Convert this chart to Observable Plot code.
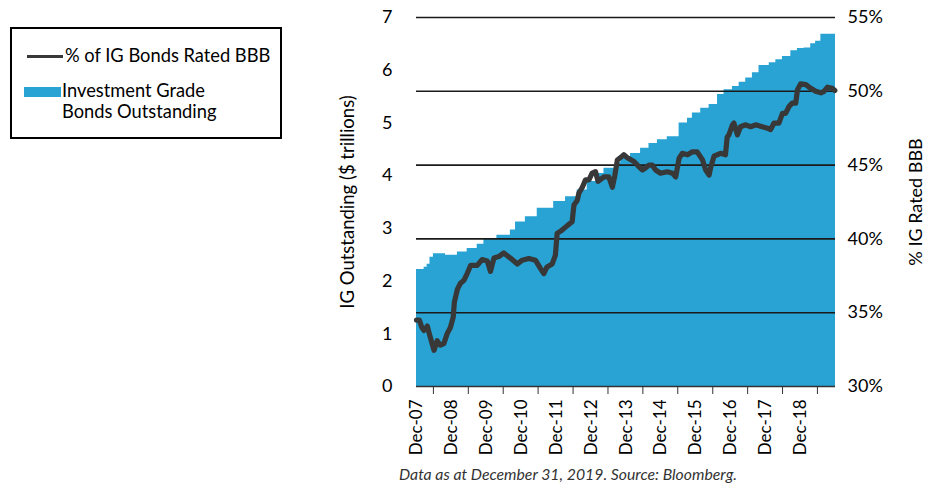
<!DOCTYPE html>
<html><head><meta charset="utf-8">
<script src="https://cdn.jsdelivr.net/npm/d3@7"></script>
<script src="https://cdn.jsdelivr.net/npm/@observablehq/plot@0.6"></script>
<style>
body{margin:0;background:#fff;font-family:Lato,sans-serif;}
#wrap{position:relative;width:927px;height:485px;overflow:hidden;}
#chart{position:absolute;left:0;top:0;}
#legend{position:absolute;left:10px;top:27px;width:268px;height:108px;border:2px solid #000;color:#000;font-size:18.3px;}
.lg{position:absolute;}
#caption{position:absolute;left:268px;width:600px;top:465px;text-align:center;font-style:italic;font-size:15.8px;color:#333;line-height:18px;}
</style>
</head><body>
<div id="wrap">
  <div id="chart"></div>
  <div id="legend"></div>
  <div id="caption"></div>
</div>
<script>
// ---- data ----
const xLabels = ["Dec-07","Dec-08","Dec-09","Dec-10","Dec-11","Dec-12","Dec-13","Dec-14","Dec-15","Dec-16","Dec-17","Dec-18"];
const leftTicks = [0,1,2,3,4,5,6,7];
const pctTicks = [30,35,40,45,50,55];
const gridPct = [35,40,45,50,55];

// IG bonds outstanding ($ trillions)
const areaDates = ["2007-12-31","2008-03-20","2008-04-20","2008-05-20","2008-06-25","2008-10-30","2009-03-03","2009-06-13","2009-09-26","2009-12-05","2010-04-20","2010-09-08","2010-11-01","2011-02-12","2011-06-16","2011-12-05","2012-04-07","2012-08-07","2012-11-20","2013-03-06","2013-05-14","2013-09-12","2013-11-06","2014-02-16","2014-06-01","2014-08-28","2014-11-24","2015-03-07","2015-07-09","2015-10-05","2015-11-25","2016-02-20","2016-05-18","2016-08-14","2016-10-21","2017-01-17","2017-03-28","2017-06-05","2017-08-14","2017-10-22","2018-02-06","2018-04-16","2018-06-24","2018-09-20","2018-11-28","2019-02-06","2019-04-16","2019-06-06","2019-07-31","2019-12-31"];
const areaValues = [2.22,2.26,2.32,2.45,2.52,2.49,2.55,2.62,2.70,2.79,2.87,2.97,3.12,3.22,3.38,3.51,3.60,3.73,3.89,4.04,4.14,4.24,4.36,4.42,4.52,4.61,4.68,4.74,5.00,5.09,5.19,5.28,5.35,5.54,5.63,5.69,5.77,5.85,5.95,6.09,6.14,6.20,6.26,6.37,6.41,6.42,6.50,6.55,6.68,6.68];

// % of IG bonds rated BBB
const lineDates = ["2007-12-31","2008-01-30","2008-02-25","2008-03-18","2008-04-22","2008-05-12","2008-07-01","2008-08-03","2008-09-05","2008-10-12","2008-11-17","2008-12-20","2009-01-18","2009-01-30","2009-03-03","2009-04-04","2009-05-11","2009-06-13","2009-07-19","2009-09-26","2009-11-16","2010-01-10","2010-02-12","2010-03-20","2010-05-10","2010-07-01","2010-09-08","2010-11-20","2011-01-10","2011-03-20","2011-05-28","2011-07-19","2011-08-24","2011-09-26","2011-11-20","2011-12-23","2012-01-10","2012-03-02","2012-04-25","2012-06-15","2012-07-04","2012-08-07","2012-08-25","2012-09-30","2012-11-02","2012-12-08","2013-01-10","2013-02-15","2013-03-13","2013-05-14","2013-07-04","2013-08-10","2013-09-05","2013-10-01","2013-11-20","2013-12-08","2014-01-14","2014-03-24","2014-05-14","2014-06-19","2014-07-22","2014-08-28","2014-09-30","2014-11-05","2014-12-27","2015-03-07","2015-05-01","2015-06-03","2015-07-09","2015-08-11","2015-10-05","2015-11-25","2016-01-14","2016-03-10","2016-04-12","2016-05-18","2016-06-02","2016-07-08","2016-09-15","2016-11-05","2016-11-23","2016-12-11","2017-01-17","2017-02-01","2017-03-10","2017-04-11","2017-06-05","2017-07-27","2017-09-16","2017-11-24","2018-01-18","2018-02-20","2018-03-28","2018-05-18","2018-06-24","2018-07-27","2018-09-01","2018-10-04","2018-11-10","2018-11-28","2018-12-31","2019-02-24","2019-04-16","2019-06-06","2019-07-31","2019-09-02","2019-10-08","2019-11-28","2019-12-24"];
const lineValues = [34.5,34.5,34.0,33.8,34.1,33.6,32.45,33.1,32.8,32.9,33.6,34.0,34.7,35.7,36.6,37.0,37.2,37.65,38.2,38.2,38.6,38.5,37.8,38.7,38.8,39.05,38.7,38.3,38.56,38.67,38.56,38.0,37.65,38.1,38.3,38.9,40.37,40.6,40.9,41.16,42.3,42.6,43.1,43.5,44.0,44.0,44.45,44.55,43.9,44.2,44.2,43.5,44.3,45.35,45.6,45.7,45.5,45.24,44.9,44.67,44.8,45.0,45.0,44.67,44.45,44.55,44.45,44.2,45.47,45.8,45.7,45.9,45.9,45.35,44.67,44.33,44.8,45.6,45.8,45.7,46.9,47.05,47.73,47.85,47.05,47.6,47.73,47.6,47.73,47.6,47.5,47.4,47.85,47.85,48.5,48.5,48.97,49.2,49.2,50.1,50.5,50.45,50.2,50.0,49.9,50.0,50.28,50.2,50.05];

const legendLine = "% of IG Bonds Rated BBB";
const legendArea = ["Investment Grade","Bonds Outstanding"];
const leftTitle = "IG Outstanding ($ trillions)";
const rightTitle = "% IG Rated BBB";
const captionText = "Data as at December 31, 2019. Source: Bloomberg.";

// ---- build ----
const areaData = areaDates.map((d,i)=>({date:new Date(d), value:areaValues[i]}));
const lineData = lineDates.map((d,i)=>({date:new Date(d), pct:lineValues[i]}));
const toLeft = p => (p-30)*7/25;
const labelDates = xLabels.map(s => new Date(Date.UTC(2000+ +s.slice(4), 11, 31)));
const tickDates = labelDates.map(d => new Date(Date.UTC(d.getUTCFullYear()+1, 5, 25)));
const AREA = "#28a3d4", LINE = "#383838";

const chart = Plot.plot({
  width: 927, height: 465,
  marginLeft: 416, marginRight: 92, marginTop: 17, marginBottom: 79,
  x: {type: "utc", domain: [new Date("2007-12-31"), new Date("2019-12-31")]},
  y: {domain: [0, 7]},
  style: {fontFamily: "Lato, sans-serif", fontSize: "17px", color: "#000", background: "transparent", overflow: "visible"},
  marks: [
    Plot.areaY(areaData, {x: "date", y: "value", fill: AREA, curve: "step-after"}),
    Plot.ruleY(gridPct.map(toLeft), {stroke: "#1a1a1a", strokeWidth: 1.6}),
    Plot.lineY(lineData, {x: "date", y: d => toLeft(d.pct), stroke: LINE, strokeWidth: 5.2, strokeLinejoin: "round"}),
    Plot.ruleY([0], {stroke: "#333", strokeWidth: 1.5}),
    Plot.axisY({anchor: "left", ticks: leftTicks, tickFormat: d => String(d), tickSize: 0, tickPadding: 24, label: null, fontSize: 18}),
    Plot.axisY({anchor: "right", ticks: pctTicks.map(toLeft), tickFormat: v => Math.round(v*25/7+30) + "%", tickSize: 0, tickPadding: 12, label: null, fontSize: 18}),
    Plot.axisX({ticks: labelDates, tickFormat: (d,i) => xLabels[i], tickRotate: -90, tickSize: 0, tickPadding: 13, label: null, fontSize: 17}),
    Plot.axisX({ticks: tickDates, tickFormat: () => "", tickSize: 8, stroke: "#333", label: null}),
    Plot.text([leftTitle], {text: d => d, frameAnchor: "left", textAnchor: "middle", dx: -68, rotate: -90, fontSize: 18.5}),
    Plot.text([rightTitle], {text: d => d, frameAnchor: "right", textAnchor: "middle", dx: 81, rotate: -90, fontSize: 18})
  ]
});
document.getElementById("chart").append(chart);

// legend
const lg = document.getElementById("legend");
lg.innerHTML =
  `<div class="lg" style="left:15px;top:26px;width:36px;height:3px;background:${LINE}"></div>` +
  `<div class="lg" style="left:53px;top:16px;line-height:20px;white-space:nowrap">${legendLine}</div>` +
  `<div class="lg" style="left:12px;top:58px;width:37px;height:10px;background:${AREA}"></div>` +
  `<div class="lg" style="left:50px;top:51px;line-height:21px;white-space:nowrap">${legendArea.join("<br>")}</div>`;
document.getElementById("caption").textContent = captionText;
</script>
</body></html>
